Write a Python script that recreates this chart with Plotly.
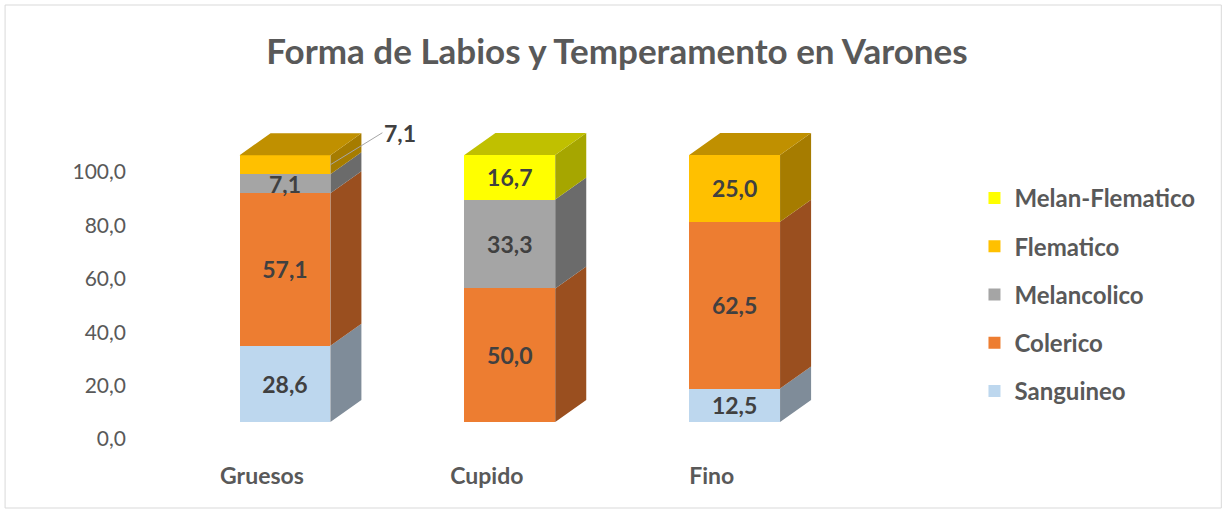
import plotly.graph_objects as go

categories = ["Gruesos", "Cupido", "Fino"]
series = ["Sanguineo", "Colerico", "Melancolico", "Flematico", "Melan-Flematico"]
values = {
    "Sanguineo": [28.6, 0, 12.5],
    "Colerico": [57.1, 50.0, 62.5],
    "Melancolico": [7.1, 33.3, 0],
    "Flematico": [7.1, 0, 25.0],
    "Melan-Flematico": [0, 16.7, 0],
}
y_ticks = [0, 20, 40, 60, 80, 100]
title_text = "Forma de Labios y Temperamento en Varones"

front_colors = {"Sanguineo": "#BDD7EE", "Colerico": "#ED7D31", "Melancolico": "#A5A5A5",
                "Flematico": "#FFC000", "Melan-Flematico": "#FFFF00"}
side_colors = {"Sanguineo": "#7F8C99", "Colerico": "#9A4F1F", "Melancolico": "#6B6B6B",
               "Flematico": "#A67C00", "Melan-Flematico": "#A6A600"}
top_colors = {"Sanguineo": "#97A8B8", "Colerico": "#B85E24", "Melancolico": "#808080",
              "Flematico": "#C09000", "Melan-Flematico": "#C0C000"}

FONT = "Lato, Open Sans, sans-serif"
BAR_W = 0.404
DX = 0.138   # depth offset in x units
DY = 8.24    # depth offset in y units

W, H = 1229, 511
L, R, T, B = 135, 291.5, 110, 61
PW, PH = W - L - R, H - T - B

x_pos = list(range(len(categories)))
fig = go.Figure()

def fmt(v):
    return f"{v:.1f}".replace(".", ",")

# front faces
for k, s in enumerate(series):
    vals = [v if v > 0 else None for v in values[s]]
    texts = []
    for i, v in enumerate(values[s]):
        if v > 0 and not (s == "Flematico" and categories[i] == "Gruesos"):
            texts.append(fmt(v))
        else:
            texts.append("")
    fig.add_trace(go.Bar(
        x=x_pos, y=vals, name=s, width=BAR_W,
        marker=dict(color=front_colors[s], line=dict(width=0)),
        text=texts, textposition="inside", insidetextanchor="middle",
        constraintext="none",
        textfont=dict(family=FONT, size=23, color="#404040", weight="bold"),
        legendgroup=s, legendrank=100 - k, hoverinfo="skip",
    ))

# side and top faces (computed from data)
cum = [0.0] * len(categories)
tops = [sum(values[s][i] for s in series) for i in range(len(categories))]
for s in series:
    sx, sy, tx, ty = [], [], [], []
    for i, v in enumerate(values[s]):
        if v <= 0:
            continue
        y0, y1 = cum[i], cum[i] + v
        xr = x_pos[i] + BAR_W / 2
        xl = x_pos[i] - BAR_W / 2
        sx += [xr, xr + DX, xr + DX, xr, xr, None]
        sy += [y0, y0 + DY, y1 + DY, y1, y0, None]
        if abs(y1 - tops[i]) < 1e-6:
            tx += [xl, xr, xr + DX, xl + DX, xl, None]
            ty += [y1, y1, y1 + DY, y1 + DY, y1, None]
        cum[i] = y1
    if sx:
        fig.add_trace(go.Scatter(x=sx, y=sy, mode="lines", fill="toself",
                                 fillcolor=side_colors[s], line=dict(width=0),
                                 showlegend=False, hoverinfo="skip"))
    if tx:
        fig.add_trace(go.Scatter(x=tx, y=ty, mode="lines", fill="toself",
                                 fillcolor=top_colors[s], line=dict(width=0),
                                 showlegend=False, hoverinfo="skip"))

# outside label for Gruesos Flematico
gi = categories.index("Gruesos")
base_f = values["Sanguineo"][gi] + values["Colerico"][gi] + values["Melancolico"][gi]
fv = values["Flematico"][gi]
fig.add_annotation(
    x=x_pos[gi] + BAR_W / 2, y=base_f + fv / 2,
    text="<b>" + fmt(fv) + "</b>", showarrow=True, arrowhead=0, arrowwidth=1,
    arrowcolor="#A6A6A6", ax=52, ay=-32, xanchor="left",
    font=dict(family=FONT, size=23, color="#404040"),
)

fig.update_layout(
    width=W, height=H,
    barmode="stack",
    plot_bgcolor="white", paper_bgcolor="white",
    margin=dict(l=L, r=R, t=T, b=B),
    separators=",.",
    title=dict(text="<b>" + title_text + "</b>", x=617 / W, xref="container",
               y=1 - 52 / H, yref="container", yanchor="middle", xanchor="center",
               font=dict(family=FONT, size=35, color="#595959")),
    xaxis=dict(range=[-0.667, 2.9], tickvals=x_pos, ticktext=["<b>" + c + "</b>" for c in categories],
               showgrid=False, zeroline=False, showline=False, ticks="",
               ticklabelshift=-23, ticklabelstandoff=10,
               tickfont=dict(family=FONT, size=23, color="#595959")),
    yaxis=dict(range=[-10.49, 116.85], tickvals=y_ticks, tickformat=".1f",
               showgrid=False, zeroline=False, showline=False, ticks="",
               ticklabelshift=17, ticklabelstandoff=8,
               tickfont=dict(family=FONT, size=21, color="#595959")),
    legend=dict(x=(975 - L) / PW, xanchor="left", y=(H - B - 176) / PH, yanchor="top",
                traceorder="grouped", tracegroupgap=14,
                font=dict(family=FONT, size=24, color="#595959", weight="bold"),
                itemclick=False),
    shapes=[dict(type="rect", xref="paper", yref="paper",
                 x0=(5 - L) / PW, x1=(1222 - L) / PW,
                 y0=(H - B - 508) / PH, y1=(H - B - 5) / PH,
                 line=dict(color="#D9D9D9", width=1), layer="below")],
)

fig.write_html("out.html", config={"displayModeBar": False},
               post_script="document.body.style.margin='0';")
